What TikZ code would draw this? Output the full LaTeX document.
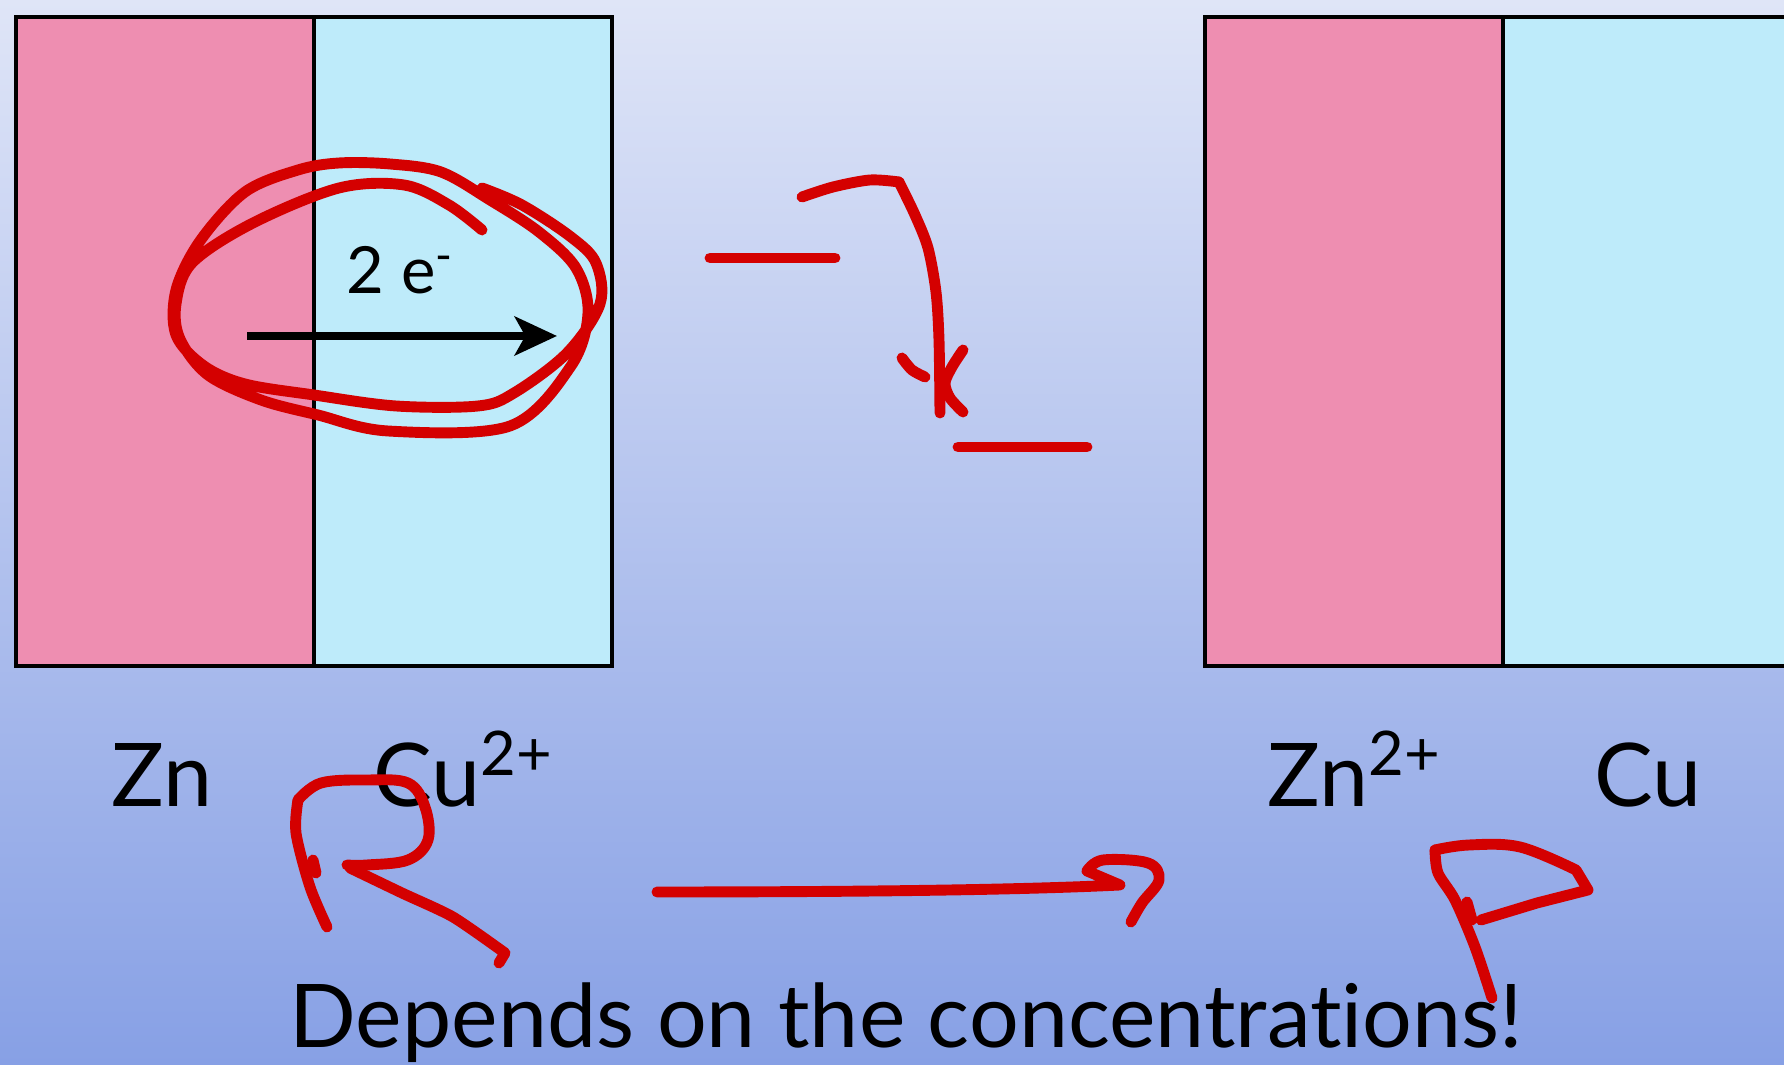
\documentclass[tikz,border=0pt]{standalone}
\usepackage{fontspec}
\setmainfont{Lato}[Ligatures=NoCommon]
\usepackage{tikz}
\usetikzlibrary{arrows.meta,calc}
\definecolor{BgTop}{HTML}{DFE5F7}
\definecolor{BgMid}{HTML}{B8C6EF}
\definecolor{BgBottom}{HTML}{87A0E5}
\definecolor{ZnPink}{HTML}{EE8EB1}
\definecolor{CuBlue}{HTML}{BEEBFA}
\definecolor{InkRed}{HTML}{D40000}

\begin{document}
\begin{tikzpicture}[x=0.01cm, y=-0.01cm,
    cell/.style={draw=black, line width=1pt, minimum width=2.98cm,
                 minimum height=6.49cm, inner sep=0pt},
    species/.style={anchor=base west, inner sep=0pt, text=black,
                    font=\fontsize{25pt}{30pt}\selectfont},
    ink/.style={InkRed, line width=3.1pt, line cap=round, line join=round},
    earrow/.style={line width=2.4pt, -{Stealth[length=12pt, width=11pt, inset=3pt]}}]
  \useasboundingbox (0,0) rectangle (1784,1065);
  \clip (0,0) rectangle (1784,1065);
  \shade[top color=BgTop, middle color=BgMid, bottom color=BgBottom]
    (0,0) rectangle (1784,1065);

  % before
  \node[cell, fill=ZnPink] (zncell) at (165,341.5) {};
  \node[cell, fill=CuBlue] (cuioncell) at (463,341.5) {};
  % after
  \node[cell, fill=ZnPink] (znioncell) at (1354,341.5) {};
  \node[cell, fill=CuBlue] (cucell) at (1652,341.5) {};

  \coordinate (etail) at (247,336);
  \coordinate (ehead) at (557,336);
  \draw[earrow] (etail) -- (ehead);
  \node[species, font=\fontsize{18.5pt}{22pt}\selectfont] (etext) at (346,294)
    {2 e\textsuperscript{-}};

  \node[species] (zn) at (111,807) {Zn};
  \node[species] (cuion) at (373,807) {Cu\textsuperscript{2+}};
  \node[species] (znion) at (1267,807) {Zn\textsuperscript{2+}};
  \node[species] (cu) at (1594,807) {Cu};
  \node[species] (depends) at (289,1048) {Depends on the concentrations!};

  % pen marks
  \draw[ink] plot[smooth, tension=0.55] coordinates {
    (482,230) (449,205) (404,185) (339,188) (253,223) (192,263) (176,304)
    (180,339) (208,375) (261,400) (318,415) (388,431) (510,426) (571,366)
    (588,313) (576,268) (539,232) (490,200) (441,172) (390,164) (339,163)
    (298,170) (245,192) (200,241) (176,290) (176,335) (204,366) (245,384)
    (314,395) (396,406) (478,406) (514,393) (567,353) (600,304) (596,263)
    (571,237) (522,205) (482,188)};

  \draw[ink] (710,258) -- (835,258);
  \draw[ink] (958,447) -- (1087,447);
  \draw[ink] plot[smooth, tension=0.5] coordinates {
    (802,197) (833,187) (870,180) (899,182)};
  \draw[ink] plot[smooth, tension=0.5] coordinates {
    (899,182) (915,215) (928,248) (936,292) (939,340) (940,413)};
  \draw[ink] plot[smooth] coordinates {(902,358) (912,370) (925,377)};
  \draw[ink] plot[smooth, tension=0.5] coordinates {
    (963,350) (952,367) (945,383) (950,398) (963,412)};

  \draw[ink] plot[smooth, tension=0.5] coordinates {
    (327,927) (310,887) (296,833) (298,800)};
  \draw[ink] plot[smooth, tension=0.6] coordinates {
    (298,800) (321,783) (367,780) (408,783) (425,807) (428,840) (408,860)
    (367,865) (347,865)};
  \draw[ink] plot[smooth, tension=0.4] coordinates {
    (350,868) (402,893) (453,917) (505,953)} -- (499,963);
  \draw[ink] (313,860) -- (316,873);

  \draw[ink] (657,892) .. controls (900,892) and (1040,889) .. (1120,885)
    -- (1087,871);
  \draw[ink] plot[smooth, tension=0.6] coordinates {
    (1087,871) (1103,860) (1148,863) (1159,880) (1142,903) (1131,922)};

  \draw[ink] plot[smooth, tension=0.5] coordinates {
    (1492,998) (1475,947) (1455,900) (1438,873) (1435,850)};
  \draw[ink] plot[smooth, tension=0.6] coordinates {
    (1435,850) (1469,845) (1520,847) (1576,870)} -- (1588,890) -- (1537,903)
    -- (1481,920);
  \draw[ink] (1467,902) -- (1472,920);
\end{tikzpicture}
\end{document}
